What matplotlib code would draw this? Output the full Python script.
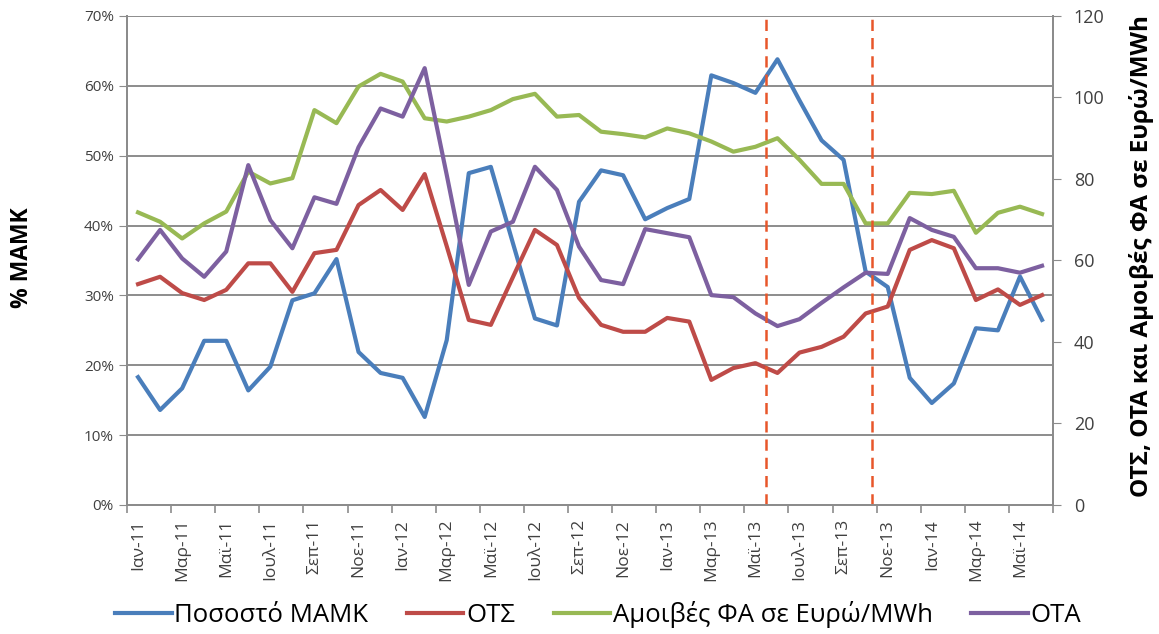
import matplotlib
matplotlib.use("Agg")
import matplotlib.pyplot as plt
from matplotlib.ticker import FuncFormatter

plt.rcParams['font.family'] = ['Open Sans', 'DejaVu Sans']

months = ['Ιαν', 'Φεβ', 'Μαρ', 'Απρ', 'Μαϊ', 'Ιουν', 'Ιουλ', 'Αυγ', 'Σεπ', 'Οκτ', 'Νοε', 'Δεκ']
labels = ['{}-{}'.format(m, y) for y in ('11', '12', '13') for m in months] + \
         ['{}-14'.format(m) for m in months[:6]]

# Ποσοστό ΜΑΜΚ (%), left axis
mamk = [18.3, 13.6, 16.7, 23.5, 23.5, 16.4, 19.8, 29.3, 30.3, 35.2, 21.9, 18.9,
        18.2, 12.6, 23.6, 47.5, 48.4, 37.5, 26.7, 25.7, 43.4, 47.9, 47.2, 40.9,
        42.5, 43.8, 61.5, 60.4, 59.0, 63.8, 57.9, 52.2, 49.4, 33.4, 31.2, 18.2,
        14.6, 17.4, 25.3, 25.0, 32.7, 26.5]
# ΟΤΣ, right axis
ots = [54.2, 56.0, 52.0, 50.3, 52.8, 59.3, 59.3, 52.3, 61.8, 62.6, 73.6, 77.3,
       72.4, 81.2, 63.5, 45.4, 44.2, 55.9, 67.5, 63.8, 50.8, 44.2, 42.5, 42.5,
       45.9, 45.0, 30.7, 33.6, 34.8, 32.4, 37.4, 38.8, 41.3, 47.0, 48.7, 62.6,
       65.0, 63.0, 50.3, 52.9, 49.1, 51.5]
# Αμοιβές ΦΑ σε Ευρώ/MWh, right axis
fa = [71.8, 69.5, 65.4, 69.1, 72.0, 81.8, 78.9, 80.2, 96.9, 93.7, 102.7, 105.8,
      103.9, 94.9, 94.1, 95.3, 96.9, 99.6, 100.9, 95.3, 95.7, 91.6, 91.0, 90.2,
      92.4, 91.2, 89.2, 86.7, 87.9, 90.0, 84.7, 78.8, 78.8, 69.1, 69.1, 76.6,
      76.3, 77.1, 66.8, 71.7, 73.2, 71.4]
# ΟΤΑ, right axis
ota = [60.3, 67.5, 60.5, 56.0, 62.2, 83.4, 69.9, 63.0, 75.5, 73.9, 87.8, 97.3,
       95.3, 107.2, 81.0, 54.0, 67.1, 69.5, 83.0, 77.3, 63.4, 55.2, 54.2, 67.7,
       66.7, 65.7, 51.5, 51.0, 47.0, 43.9, 45.6, 49.6, 53.4, 57.0, 56.7, 70.4,
       67.5, 65.8, 58.1, 58.1, 57.0, 58.7]
markers_x = [28.47, 33.27]

x = list(range(len(labels)))
grid_c = '#8c8c8c'
text_c = '#404040'

fig = plt.figure(figsize=(11.59, 6.34), dpi=100)
ax = fig.add_axes([0.1096, 0.2035, 0.799, 0.7713])
ax2 = ax.twinx()

ax.set_ylim(0, 70)
ax.set_yticks(range(0, 71, 10))
ax.yaxis.set_major_formatter(FuncFormatter(lambda v, p: '{:.0f}%'.format(v)))
ax.grid(axis='y', color=grid_c, linewidth=1.4)
ax.set_axisbelow(True)
ax2.set_ylim(0, 120)
ax2.set_yticks(range(0, 121, 20))

lw = 3.0
l1, = ax.plot(x, mamk, color='#4A7EBB', linewidth=lw, label='Ποσοστό ΜΑΜΚ')
l2, = ax2.plot(x, ots, color='#BE4B48', linewidth=lw, label='ΟΤΣ')
l3, = ax2.plot(x, fa, color='#98B954', linewidth=lw, label='Αμοιβές ΦΑ σε Ευρώ/MWh')
l4, = ax2.plot(x, ota, color='#7D60A0', linewidth=lw, label='ΟΤΑ')
for mx in markers_x:
    ax2.axvline(mx, color='#E8562A', linestyle=(0, (4.5, 2.8)), linewidth=1.8)

ax.set_xlim(-0.5, len(labels) - 0.5)
ax.set_xticks(x[::2])
ax.set_xticklabels(labels[::2], rotation=90)
ax.set_xticks([i - 0.5 for i in range(0, len(labels) + 1, 2)], minor=True)
ax.tick_params(axis='x', which='major', length=0, pad=10, labelsize=12.5, labelcolor=text_c)
ax.tick_params(axis='x', which='minor', length=6, color=grid_c, width=1.2)
ax.tick_params(axis='y', length=6, color=grid_c, labelsize=11, labelcolor=text_c)
ax2.tick_params(axis='y', length=6, color=grid_c, labelsize=13, labelcolor=text_c, pad=9)

for a in (ax, ax2):
    a.spines['top'].set_visible(False)
    for s in ('left', 'right', 'bottom'):
        a.spines[s].set_color(grid_c)
        a.spines[s].set_linewidth(1.4)

fig.text(22 / 1159, 0.594, '% ΜΑΜΚ', rotation=90, ha='center', va='center',
         fontsize=16.5, fontweight='bold')
fig.text(1141 / 1159, 0.596, 'ΟΤΣ, ΟΤΑ και Αμοιβές ΦΑ σε Ευρώ/MWh', rotation=90,
         ha='center', va='center', fontsize=17.5, fontweight='bold')

fig.legend([l1, l2, l3, l4], [l.get_label() for l in (l1, l2, l3, l4)],
           loc='center', bbox_to_anchor=(0.516, 0.03), ncol=4, frameon=False,
           fontsize=18.5, handlelength=2.2, columnspacing=1.5, handletextpad=0.1)

fig.savefig('out.png', dpi=100)
